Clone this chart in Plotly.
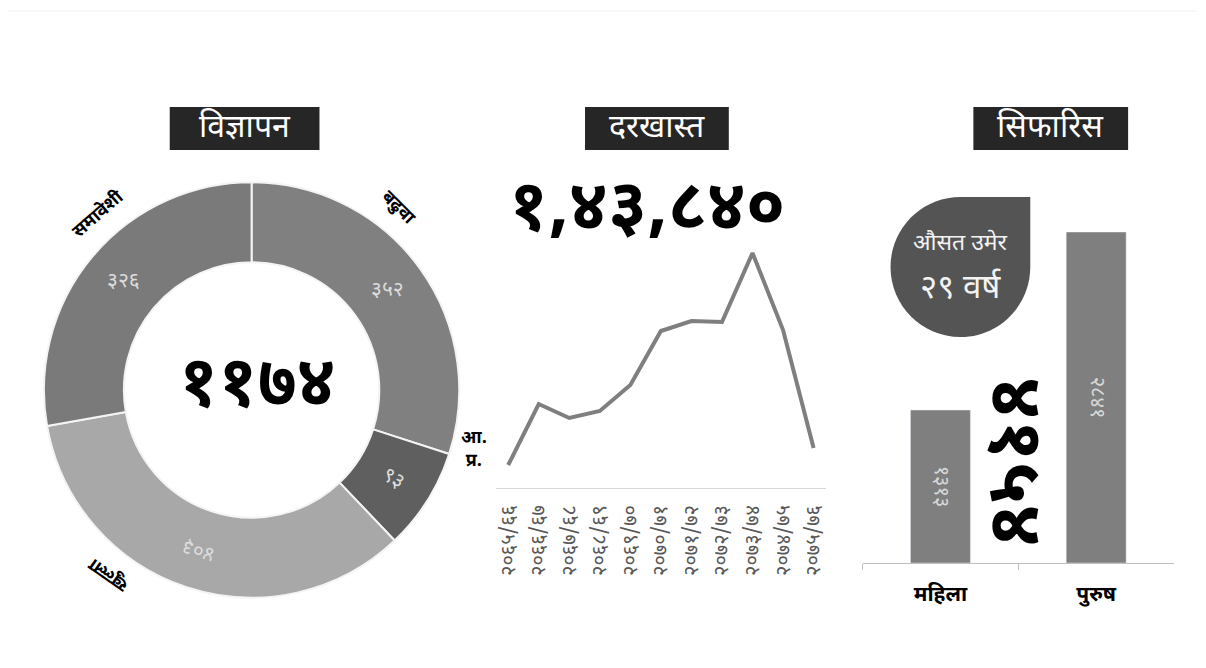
import math
import plotly.graph_objects as go

W, H = 1206, 668          # browser window
OFF = 8                   # default page margin around the figure
FW, FH = W - 2 * OFF, H - 2 * OFF
DEV = "Noto Sans Devanagari, Lohit Devanagari, Mukta, Noto Sans, sans-serif"

# ---------------- data ----------------
ad_labels = ["बढुवा", "आ. प्र.", "खुल्ला", "समावेशी"]
ad_values = [352, 93, 403, 326]
ad_value_text = ["३५२", "९३", "४०३", "३२६"]
ad_total_text = "११७४"

fiscal_years = ["२०६५/६६", "२०६६/६७", "२०६७/६८", "२०६८/६९", "२०६९/७०", "२०७०/७१",
                "२०७१/७२", "२०७२/७३", "२०७३/७४", "२०७४/७५", "२०७५/७६"]
applications = [23, 84, 70, 77, 103, 157, 167, 166, 235, 158, 40]
applications_total_text = "१,४३,८४०"

gender_labels = ["महिला", "पुरुष"]
gender_values = [1313, 2841]
gender_value_text = ["१३१३", "२८४१"]
recommend_total_text = "४१५४"
avg_age_lines = ["औसत उमेर", "२९ वर्ष"]

section_titles = ["विज्ञापन", "दरखास्त", "सिफारिस"]

# ---------------- style ----------------
pie_colors = ["#808080", "#5f5f5f", "#a8a8a8", "#7a7a7a"]
pie_px = dict(x0=44, x1=460, y0=182, y1=598)
hole = 0.615


def px_x(v):
    return (v - OFF) / FW


def px_y(v):
    return 1 - (v - OFF) / FH


fig = go.Figure()

# donut
fig.add_trace(go.Pie(
    labels=ad_labels, values=ad_values, hole=hole, sort=False, direction="clockwise",
    rotation=0, marker=dict(colors=pie_colors, line=dict(color="#f4f4f4", width=2)),
    textinfo="none", hoverinfo="label+value", showlegend=False,
    domain=dict(x=[px_x(pie_px["x0"]), px_x(pie_px["x1"])],
                y=[px_y(pie_px["y1"]), px_y(pie_px["y0"])]),
))

# line
fig.add_trace(go.Scatter(
    x=fiscal_years, y=applications, mode="lines", line=dict(color="#7f7f7f", width=4),
    xaxis="x", yaxis="y", showlegend=False, hoverinfo="x+y",
))

# bars
fig.add_trace(go.Bar(
    x=gender_labels, y=gender_values, width=0.385, marker=dict(color="#7f7f7f"),
    text=gender_value_text, textposition="inside", insidetextanchor="middle",
    textangle=90, textfont=dict(family=DEV, size=20, color="#d8d8d8"),
    xaxis="x2", yaxis="y2", showlegend=False, hoverinfo="x+y",
))

# invisible trace to create overlay pixel axis
fig.add_trace(go.Scatter(x=[OFF], y=[OFF], mode="markers", marker=dict(opacity=0),
                         xaxis="x3", yaxis="y3", showlegend=False, hoverinfo="skip"))

annotations = []
shapes = []


def ann(x, y, text, size, color="black", bold=False, angle=0, **kw):
    t = f"<b>{text}</b>" if bold else text
    annotations.append(dict(x=x, y=y, xref="x3", yref="y3", text=t, showarrow=False,
                            textangle=angle, font=dict(family=DEV, size=size, color=color), **kw))


# donut annotations
cx = (pie_px["x0"] + pie_px["x1"]) / 2
cy = (pie_px["y0"] + pie_px["y1"]) / 2
R = (pie_px["x1"] - pie_px["x0"]) / 2
r_mid = R * (1 + hole) / 2
total = sum(ad_values)
cum = 0
mid_angles = []
for v in ad_values:
    mid_angles.append((cum + v / 2) / total * 360)
    cum += v
for i, (txt, th) in enumerate(zip(ad_value_text, mid_angles)):
    x = cx + r_mid * math.sin(math.radians(th))
    y = cy - r_mid * math.cos(math.radians(th))
    if i == 1:
        ang = th - 90
    elif i == 2:
        ang = th - 360
    else:
        ang = 0
    ann(x, y, txt, 21, color="#dcdcdc", angle=ang)

# outside labels (angle from top clockwise, radius, text angle)
label_pos = [(39, 233, 45), (105, 231, 0), (218, 233, -145), (319, 233, -41)]
for i, (lab, (th, rr, ang)) in enumerate(zip(ad_labels, label_pos)):
    x = cx + rr * math.sin(math.radians(th))
    y = cy - rr * math.cos(math.radians(th))
    text = lab.replace(" ", "<br>") if i == 1 else lab
    ann(x, y, text, 18, bold=True, angle=ang)

ann(cx + 6, cy - 2, ad_total_text, 70, bold=True)

# title boxes
title_boxes = [(170, 320), (586, 730), (975, 1130)]
for (x0, x1), t in zip(title_boxes, section_titles):
    shapes.append(dict(type="rect", xref="x3", yref="y3", x0=x0, x1=x1, y0=107, y1=150,
                       fillcolor="#262626", line=dict(width=0), layer="above"))
    ann((x0 + x1) / 2, 129, t, 32, color="white")

# big applications number
ann(648, 212, applications_total_text, 70, bold=True)

# droplet
dx0, dy0, rr = 962, 267, 70
k = 0.5523 * rr
path = (f"M {dx0+rr},{dy0-rr} L {dx0+rr},{dy0} "
        f"C {dx0+rr},{dy0+k} {dx0+k},{dy0+rr} {dx0},{dy0+rr} "
        f"C {dx0-k},{dy0+rr} {dx0-rr},{dy0+k} {dx0-rr},{dy0} "
        f"C {dx0-rr},{dy0-k} {dx0-k},{dy0-rr} {dx0},{dy0-rr} Z")
shapes.append(dict(type="path", xref="x3", yref="y3", path=path, fillcolor="#545454",
                   line=dict(width=0), layer="above"))
ann(dx0, 244, avg_age_lines[0], 23, color="#f2f2f2")
ann(dx0, 289, avg_age_lines[1], 33, color="#f2f2f2")

# big recommendation total (rotated)
ann(1012, 462, recommend_total_text, 76, bold=True, angle=90)

# faint top line
shapes.append(dict(type="line", xref="x3", yref="y3", x0=OFF, x1=W, y0=11, y1=11,
                   line=dict(color="#f0f0f0", width=1), layer="below"))

# axis domains (pixel based)
line_x0, line_x1 = 496.8, 827.2
bar_x0, bar_x1 = 864, 1176

fig.update_layout(
    width=FW, height=FH, margin=dict(l=0, r=0, t=0, b=0),
    paper_bgcolor="white", plot_bgcolor="rgba(0,0,0,0)",
    xaxis=dict(domain=[px_x(line_x0), px_x(line_x1)], anchor="y", type="category",
               range=[-0.4, 10.4], showgrid=False, zeroline=False, showline=True,
               linecolor="#d9d9d9", linewidth=1, ticks="", tickangle=-90,
               tickfont=dict(family=DEV, size=20, color="#595959"), ticklabelstandoff=8),
    yaxis=dict(domain=[px_y(488), px_y(230)], anchor="x", range=[0, 258], visible=False),
    xaxis2=dict(domain=[px_x(bar_x0), px_x(bar_x1)], anchor="y2", type="category",
                range=[-0.5, 1.5], showgrid=False, zeroline=False, showline=True,
                linecolor="#bfbfbf", linewidth=1, ticks="outside", tickson="boundaries",
                ticklen=6, tickcolor="#bfbfbf",
                tickfont=dict(family=DEV, size=21, color="black", weight="bold"),
                ticklabelstandoff=12),
    yaxis2=dict(domain=[px_y(563), px_y(232)], anchor="x2", range=[0, 2841], visible=False),
    xaxis3=dict(domain=[0, 1], range=[OFF, OFF + FW], visible=False, anchor="y3",
                fixedrange=True),
    yaxis3=dict(domain=[0, 1], range=[OFF + FH, OFF], visible=False, anchor="x3",
                fixedrange=True),
    annotations=annotations, shapes=shapes,
)

fig.write_html("out.html")
